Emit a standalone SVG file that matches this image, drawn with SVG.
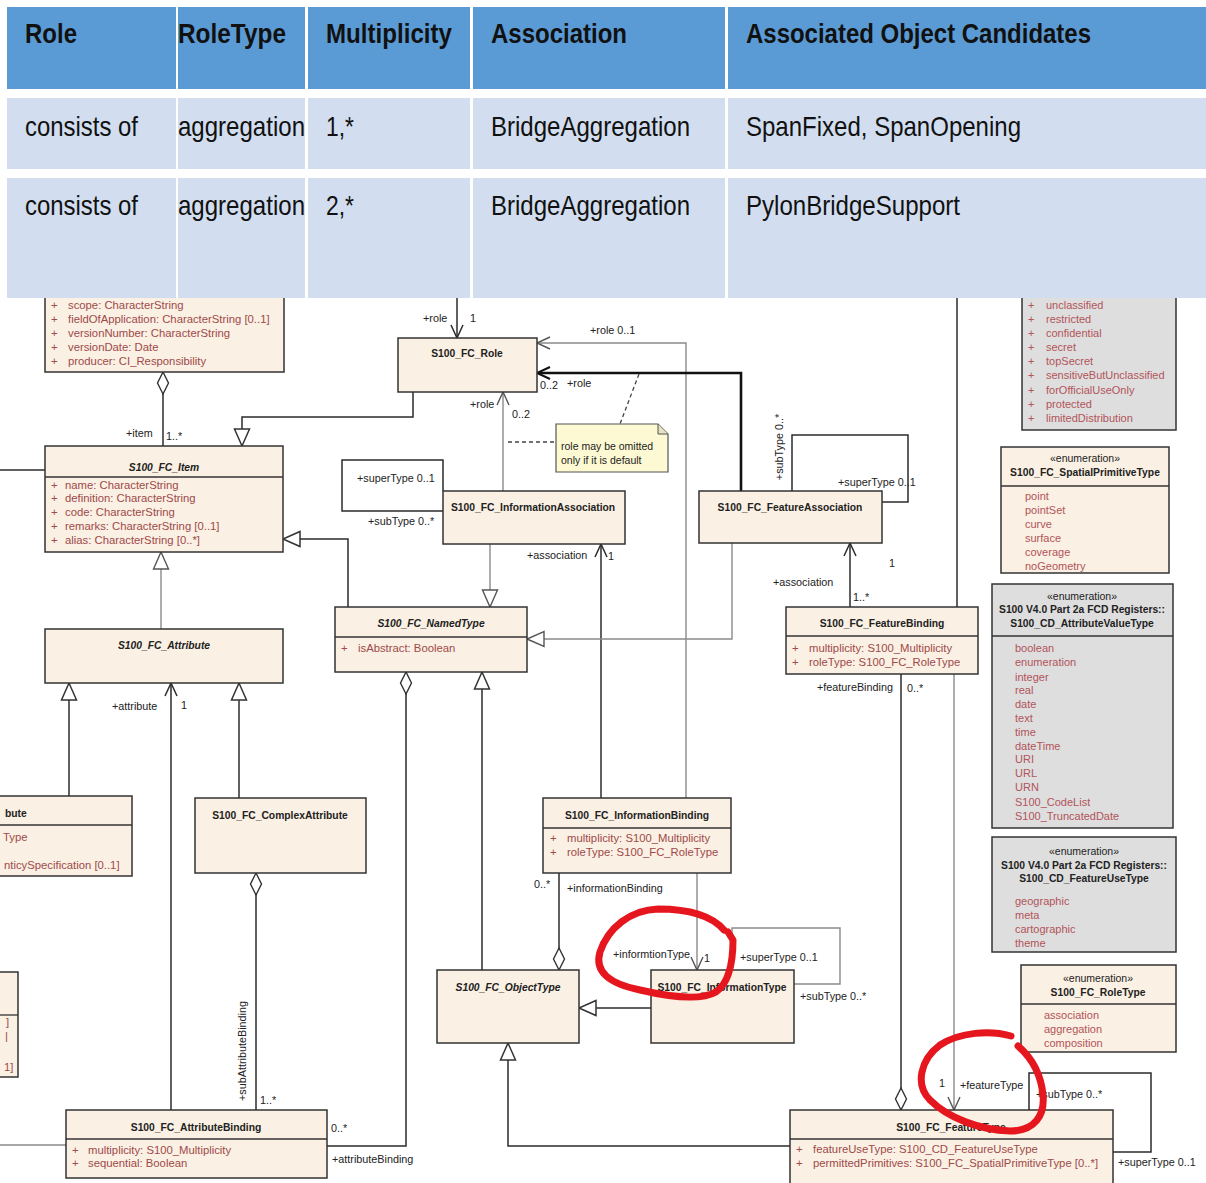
<svg xmlns="http://www.w3.org/2000/svg" width="1206" height="1183" viewBox="0 0 1206 1183">
<style>
.box{fill:#FAF0E3;stroke:#333;stroke-width:1.5}
.gbox{fill:#DEDEDE;stroke:#333;stroke-width:1.5}
.sep{stroke:#333;stroke-width:1.3}
.t{font-family:"Liberation Sans",Arial,sans-serif;font-size:10.3px;font-weight:bold;fill:#222;text-anchor:middle}
.ts{font-family:"Liberation Sans",Arial,sans-serif;font-size:10.3px;font-weight:bold;fill:#222}
.ti{font-family:"Liberation Sans",Arial,sans-serif;font-size:10.3px;font-weight:bold;font-style:italic;fill:#222;text-anchor:middle}
.st{font-family:"Liberation Sans",Arial,sans-serif;font-size:10.5px;fill:#222;text-anchor:middle}
.a{font-family:"Liberation Sans",Arial,sans-serif;font-size:11.3px;fill:#9E4A4A}
.e{font-family:"Liberation Sans",Arial,sans-serif;font-size:11px;fill:#B2545A}
.l{font-family:"Liberation Sans",Arial,sans-serif;font-size:10.8px;fill:#222}
.n{font-family:"Liberation Sans",Arial,sans-serif;font-size:10.5px;fill:#222}
.ln{fill:none;stroke:#2b2b2b;stroke-width:1.5}
.lg{fill:none;stroke:#8a8a8a;stroke-width:1.4}
.th{font-family:"Liberation Sans",Arial,sans-serif;font-size:28px;font-weight:bold;fill:#111}
.td{font-family:"Liberation Sans",Arial,sans-serif;font-size:28px;fill:#111}
.hd{fill:#5B9BD5}
.rw{fill:#D2DEEF}
.red{fill:none;stroke:#E5161D;stroke-width:7;stroke-linecap:round;stroke-linejoin:round}
</style>
<defs>
<marker id="gen" markerUnits="userSpaceOnUse" orient="auto" overflow="visible" markerWidth="1" markerHeight="1"><path d="M0,0 L-17,-7.5 L-17,7.5 Z" fill="#fff" stroke="#333" stroke-width="1.5"/></marker>
<marker id="geng" markerUnits="userSpaceOnUse" orient="auto" overflow="visible" markerWidth="1" markerHeight="1"><path d="M0,0 L-17,-7.5 L-17,7.5 Z" fill="#fff" stroke="#555" stroke-width="1.4"/></marker>
<marker id="arr" markerUnits="userSpaceOnUse" orient="auto" overflow="visible" markerWidth="1" markerHeight="1"><path d="M-13,-6 L0,0 L-13,6" fill="none" stroke="#2b2b2b" stroke-width="1.5"/></marker>
<marker id="arrg" markerUnits="userSpaceOnUse" orient="auto" overflow="visible" markerWidth="1" markerHeight="1"><path d="M-13,-6 L0,0 L-13,6" fill="none" stroke="#555" stroke-width="1.4"/></marker>
<marker id="arrt" markerUnits="userSpaceOnUse" orient="auto" overflow="visible" markerWidth="1" markerHeight="1"><path d="M-13,-6 L0,0 L-13,6" fill="none" stroke="#111" stroke-width="2"/></marker>
<marker id="dia" markerUnits="userSpaceOnUse" orient="auto" overflow="visible" markerWidth="1" markerHeight="1"><path d="M0,0 L11,-5.5 L22,0 L11,5.5 Z" fill="#fff" stroke="#333" stroke-width="1.4"/></marker>
</defs>
<rect width="1206" height="1183" fill="#fff"/>

<!-- connectors -->
<g id="connectors">
<path class="ln" d="M163,372 V446" marker-start="url(#dia)"/>
<path class="ln" d="M413,392 V417 H242 V446" marker-end="url(#gen)"/>
<path class="ln" d="M348,607 V539 H283" marker-end="url(#gen)"/>
<path class="lg" d="M161,629 V552" marker-end="url(#geng)"/>
<path class="ln" d="M457,290 V338" marker-end="url(#arr)"/>
<path class="lg" d="M686,798 V343 H537" marker-end="url(#arrg)"/>
<path fill="none" stroke="#111" stroke-width="2.6" d="M741,491 V373 H537" marker-end="url(#arrt)"/>
<path fill="none" stroke="#444" stroke-width="1.3" stroke-dasharray="4,3" d="M639,374 L620,424 M508,442 H556"/>
<path class="lg" d="M503,491 V392" marker-end="url(#arrg)"/>
<path class="ln" d="M443,491 V460 H342 V511 H443"/>
<path class="lg" d="M490,544 V607" marker-end="url(#geng)"/>
<path class="ln" d="M601,798 V544" marker-end="url(#arr)"/>
<path class="ln" d="M792,491 V435 H908 V502 H882"/>
<path class="ln" d="M850,607 V543" marker-end="url(#arr)"/>
<path class="lg" d="M732,543 V639 H527" marker-end="url(#geng)"/>
<path class="ln" d="M406,672 V1146 H327" marker-start="url(#dia)"/>
<path class="ln" d="M482,970 V672" marker-end="url(#gen)"/>
<path class="ln" d="M69,796 V683" marker-end="url(#gen)"/>
<path class="ln" d="M239,798 V683" marker-end="url(#gen)"/>
<path class="ln" d="M171,1110 V683" marker-end="url(#arr)"/>
<path class="ln" d="M256,873 V1110" marker-start="url(#dia)"/>
<path class="ln" d="M559,970 V873" marker-start="url(#dia)"/>
<path class="lg" d="M697,873 V970" marker-end="url(#arrg)"/>
<path class="lg" d="M732,970 V928 H840 V984 H794"/>
<path class="ln" d="M651,1008 H579" marker-end="url(#gen)"/>
<path class="ln" d="M790,1146 H508 V1043" marker-end="url(#gen)"/>
<path class="ln" d="M901,1110 V674" marker-start="url(#dia)"/>
<path class="lg" d="M954,674 V1110" marker-end="url(#arrg)"/>
<path class="ln" d="M1029,1110 V1073 H1151 V1152 H1113"/>
<path class="ln" d="M957,290 V607"/>
<path class="ln" d="M0,470 H45"/>
<path class="lg" d="M0,1145 H66"/>
</g>

<!-- connector labels -->
<g id="labels">
<text class="l" x="126" y="437">+item</text>
<text class="l" x="166" y="440">1..*</text>
<text class="l" x="423" y="322">+role</text>
<text class="l" x="470" y="322">1</text>
<text class="l" x="590" y="334">+role 0..1</text>
<text class="l" x="540" y="389">0..2</text>
<text class="l" x="567" y="387">+role</text>
<text class="l" x="470" y="408">+role</text>
<text class="l" x="512" y="418">0..2</text>
<text class="l" x="357" y="482">+superType 0..1</text>
<text class="l" x="368" y="525">+subType 0..*</text>
<text class="l" x="527" y="559">+association</text>
<text class="l" x="608" y="560">1</text>
<text class="l" transform="translate(783,447) rotate(-90)" text-anchor="middle">+subType 0..*</text>
<text class="l" x="838" y="486">+superType 0..1</text>
<text class="l" x="773" y="586">+association</text>
<text class="l" x="889" y="567">1</text>
<text class="l" x="853" y="601">1..*</text>
<text class="l" x="112" y="710">+attribute</text>
<text class="l" x="181" y="709">1</text>
<text class="l" transform="translate(246,1051) rotate(-90)" text-anchor="middle">+subAttributeBinding</text>
<text class="l" x="260" y="1104">1..*</text>
<text class="l" x="331" y="1132">0..*</text>
<text class="l" x="332" y="1163">+attributeBinding</text>
<text class="l" x="534" y="888">0..*</text>
<text class="l" x="567" y="892">+informationBinding</text>
<text class="l" x="613" y="958">+informtionType</text>
<text class="l" x="704" y="962">1</text>
<text class="l" x="740" y="961">+superType 0..1</text>
<text class="l" x="800" y="1000">+subType 0..*</text>
<text class="l" x="817" y="691">+featureBinding</text>
<text class="l" x="907" y="692">0..*</text>
<text class="l" x="939" y="1087">1</text>
<text class="l" x="960" y="1089">+featureType</text>
<text class="l" x="1036" y="1098">+subType 0..*</text>
<text class="l" x="1118" y="1166">+superType 0..1</text>
</g>

<!-- nodes -->
<g id="FeatureCatalogue">
<rect class="box" x="45" y="270" width="239" height="102"/>
<text class="a" x="51" y="309">+</text><text class="a" x="68" y="309">scope: CharacterString</text>
<text class="a" x="51" y="323">+</text><text class="a" x="68" y="323">fieldOfApplication: CharacterString [0..1]</text>
<text class="a" x="51" y="337">+</text><text class="a" x="68" y="337">versionNumber: CharacterString</text>
<text class="a" x="51" y="351">+</text><text class="a" x="68" y="351">versionDate: Date</text>
<text class="a" x="51" y="365">+</text><text class="a" x="68" y="365">producer: CI_Responsibility</text>
</g>
<g id="Item">
<rect class="box" x="45" y="446" width="238" height="106"/>
<text class="ti" x="164" y="471">S100_FC_Item</text>
<line class="sep" x1="45" y1="477" x2="283" y2="477"/>
<text class="a" x="51" y="489">+</text><text class="a" x="65" y="489">name: CharacterString</text>
<text class="a" x="51" y="502">+</text><text class="a" x="65" y="502">definition: CharacterString</text>
<text class="a" x="51" y="516">+</text><text class="a" x="65" y="516">code: CharacterString</text>
<text class="a" x="51" y="530">+</text><text class="a" x="65" y="530">remarks: CharacterString [0..1]</text>
<text class="a" x="51" y="544">+</text><text class="a" x="65" y="544">alias: CharacterString [0..*]</text>
</g>
<g id="Role">
<rect class="box" x="398" y="338" width="139" height="54"/>
<text class="t" x="467" y="357">S100_FC_Role</text>
</g>
<g id="Note">
<path d="M556,424 H658 L668,434 V472 H556 Z" fill="#FDFAD3" stroke="#555" stroke-width="1.2"/>
<path d="M658,424 V434 H668" fill="#E6E3C0" stroke="#555" stroke-width="1"/>
<text class="n" x="561" y="450">role may be omitted</text>
<text class="n" x="561" y="464">only if it is default</text>
</g>
<g id="InformationAssociation">
<rect class="box" x="443" y="491" width="182" height="53"/>
<text class="t" x="533" y="511">S100_FC_InformationAssociation</text>
</g>
<g id="FeatureAssociation">
<rect class="box" x="699" y="491" width="183" height="52"/>
<text class="t" x="790" y="511">S100_FC_FeatureAssociation</text>
</g>
<g id="NamedType">
<rect class="box" x="335" y="607" width="192" height="65"/>
<text class="ti" x="431" y="627">S100_FC_NamedType</text>
<line class="sep" x1="335" y1="637" x2="527" y2="637"/>
<text class="a" x="341" y="652">+</text><text class="a" x="358" y="652">isAbstract: Boolean</text>
</g>
<g id="FeatureBinding">
<rect class="box" x="786" y="607" width="192" height="67"/>
<text class="t" x="882" y="627">S100_FC_FeatureBinding</text>
<line class="sep" x1="786" y1="636" x2="978" y2="636"/>
<text class="a" x="792" y="652">+</text><text class="a" x="809" y="652">multiplicity: S100_Multiplicity</text>
<text class="a" x="792" y="666">+</text><text class="a" x="809" y="666">roleType: S100_FC_RoleType</text>
</g>
<g id="Attribute">
<rect class="box" x="45" y="629" width="238" height="54"/>
<text class="ti" x="164" y="649">S100_FC_Attribute</text>
</g>
<g id="SimpleAttribute">
<rect class="box" x="-5" y="796" width="137" height="80"/>
<text class="ts" x="5" y="817">bute</text>
<line class="sep" x1="0" y1="825" x2="132" y2="825"/>
<text class="a" x="3" y="841">Type</text>
<text class="a" x="4" y="869">nticySpecification [0..1]</text>
</g>
<g id="CutLeftClass">
<rect class="box" x="-5" y="972" width="23" height="105"/>
<line class="sep" x1="0" y1="1015" x2="18" y2="1015"/>
<text class="a" x="6" y="1026">]</text>
<text class="a" x="5" y="1040">|</text>
<text class="a" x="4" y="1071">1]</text>
</g>
<g id="ComplexAttribute">
<rect class="box" x="195" y="798" width="171" height="75"/>
<text class="t" x="280" y="819">S100_FC_ComplexAttribute</text>
</g>
<g id="AttributeBinding">
<rect class="box" x="66" y="1110" width="261" height="68"/>
<text class="t" x="196" y="1131">S100_FC_AttributeBinding</text>
<line class="sep" x1="66" y1="1139" x2="327" y2="1139"/>
<text class="a" x="72" y="1154">+</text><text class="a" x="88" y="1154">multiplicity: S100_Multiplicity</text>
<text class="a" x="72" y="1167">+</text><text class="a" x="88" y="1167">sequential: Boolean</text>
</g>
<g id="InformationBinding">
<rect class="box" x="543" y="798" width="188" height="75"/>
<text class="t" x="637" y="819">S100_FC_InformationBinding</text>
<line class="sep" x1="543" y1="828" x2="731" y2="828"/>
<text class="a" x="550" y="842">+</text><text class="a" x="567" y="842">multiplicity: S100_Multiplicity</text>
<text class="a" x="550" y="856">+</text><text class="a" x="567" y="856">roleType: S100_FC_RoleType</text>
</g>
<g id="ObjectType">
<rect class="box" x="437" y="970" width="142" height="73"/>
<text class="ti" x="508" y="991">S100_FC_ObjectType</text>
</g>
<g id="InformationType">
<rect class="box" x="651" y="970" width="143" height="73"/>
<text class="t" x="722" y="991">S100_FC_InformationType</text>
</g>
<g id="FeatureType">
<rect class="box" x="790" y="1110" width="323" height="80"/>
<text class="t" x="951" y="1131">S100_FC_FeatureType</text>
<line class="sep" x1="790" y1="1139" x2="1113" y2="1139"/>
<text class="a" x="796" y="1153">+</text><text class="a" x="813" y="1153">featureUseType: S100_CD_FeatureUseType</text>
<text class="a" x="796" y="1167">+</text><text class="a" x="813" y="1167">permittedPrimitives: S100_FC_SpatialPrimitiveType [0..*]</text>
</g>
<g id="ClassificationEnum">
<rect class="gbox" x="1022" y="270" width="154" height="160"/>
<text class="e" x="1028" y="309">+</text><text class="e" x="1046" y="309">unclassified</text>
<text class="e" x="1028" y="323">+</text><text class="e" x="1046" y="323">restricted</text>
<text class="e" x="1028" y="337">+</text><text class="e" x="1046" y="337">confidential</text>
<text class="e" x="1028" y="351">+</text><text class="e" x="1046" y="351">secret</text>
<text class="e" x="1028" y="365">+</text><text class="e" x="1046" y="365">topSecret</text>
<text class="e" x="1028" y="379">+</text><text class="e" x="1046" y="379">sensitiveButUnclassified</text>
<text class="e" x="1028" y="394">+</text><text class="e" x="1046" y="394">forOfficialUseOnly</text>
<text class="e" x="1028" y="408">+</text><text class="e" x="1046" y="408">protected</text>
<text class="e" x="1028" y="422">+</text><text class="e" x="1046" y="422">limitedDistribution</text>
</g>
<g id="SpatialPrimitiveType">
<rect class="box" x="1001" y="447" width="168" height="126"/>
<text class="st" x="1085" y="462">«enumeration»</text>
<text class="t" x="1085" y="476">S100_FC_SpatialPrimitiveType</text>
<line class="sep" x1="1001" y1="486" x2="1169" y2="486"/>
<text class="e" x="1025" y="500">point</text>
<text class="e" x="1025" y="514">pointSet</text>
<text class="e" x="1025" y="528">curve</text>
<text class="e" x="1025" y="542">surface</text>
<text class="e" x="1025" y="556">coverage</text>
<text class="e" x="1025" y="570">noGeometry</text>
</g>
<g id="AttributeValueType">
<rect class="gbox" x="992" y="584" width="181" height="244"/>
<text class="st" x="1082" y="600">«enumeration»</text>
<text class="t" x="1082" y="613">S100 V4.0 Part 2a FCD Registers::</text>
<text class="t" x="1082" y="627">S100_CD_AttributeValueType</text>
<line class="sep" x1="992" y1="636" x2="1173" y2="636"/>
<text class="e" x="1015" y="652">boolean</text>
<text class="e" x="1015" y="666">enumeration</text>
<text class="e" x="1015" y="681">integer</text>
<text class="e" x="1015" y="694">real</text>
<text class="e" x="1015" y="708">date</text>
<text class="e" x="1015" y="722">text</text>
<text class="e" x="1015" y="736">time</text>
<text class="e" x="1015" y="750">dateTime</text>
<text class="e" x="1015" y="763">URI</text>
<text class="e" x="1015" y="777">URL</text>
<text class="e" x="1015" y="791">URN</text>
<text class="e" x="1015" y="806">S100_CodeList</text>
<text class="e" x="1015" y="820">S100_TruncatedDate</text>
</g>
<g id="FeatureUseType">
<rect class="gbox" x="992" y="837" width="184" height="115"/>
<text class="st" x="1084" y="855">«enumeration»</text>
<text class="t" x="1084" y="869">S100 V4.0 Part 2a FCD Registers::</text>
<text class="t" x="1084" y="882">S100_CD_FeatureUseType</text>
<text class="e" x="1015" y="905">geographic</text>
<text class="e" x="1015" y="919">meta</text>
<text class="e" x="1015" y="933">cartographic</text>
<text class="e" x="1015" y="947">theme</text>
</g>
<g id="RoleTypeEnum">
<rect class="box" x="1021" y="965" width="155" height="87"/>
<text class="st" x="1098" y="982">«enumeration»</text>
<text class="t" x="1098" y="996">S100_FC_RoleType</text>
<line class="sep" x1="1021" y1="1004" x2="1176" y2="1004"/>
<text class="e" x="1044" y="1019">association</text>
<text class="e" x="1044" y="1033">aggregation</text>
<text class="e" x="1044" y="1047">composition</text>
</g>

<!-- red hand-drawn marks -->
<g id="redMarks">
<path class="red" d="M724,930 C712,916 688,909 658,909 C630,910 608,928 600,952 C594,972 610,984 640,990 C670,997 700,1001 716,992 C730,982 733,958 733,940 L728,932"/>
<path class="red" d="M1011,1036 C990,1030 960,1032 940,1045 C920,1060 915,1085 930,1100 C948,1118 980,1130 1010,1131 C1035,1131 1045,1115 1043,1095 C1041,1075 1032,1058 1018,1046"/>
</g>

<!-- table -->
<g id="table">
<rect x="0" y="0" width="1206" height="298" fill="#fff"/>
<rect class="hd" x="7" y="7" width="169" height="82"/>
<rect class="hd" x="178" y="7" width="127" height="82"/>
<rect class="hd" x="308" y="7" width="162" height="82"/>
<rect class="hd" x="473" y="7" width="252" height="82"/>
<rect class="hd" x="728" y="7" width="478" height="82"/>
<rect class="rw" x="7" y="98" width="169" height="71"/>
<rect class="rw" x="178" y="98" width="127" height="71"/>
<rect class="rw" x="308" y="98" width="162" height="71"/>
<rect class="rw" x="473" y="98" width="252" height="71"/>
<rect class="rw" x="728" y="98" width="478" height="71"/>
<rect class="rw" x="7" y="178" width="169" height="120"/>
<rect class="rw" x="178" y="178" width="127" height="120"/>
<rect class="rw" x="308" y="178" width="162" height="120"/>
<rect class="rw" x="473" y="178" width="252" height="120"/>
<rect class="rw" x="728" y="178" width="478" height="120"/>
<text class="th" x="25" y="43" textLength="52" lengthAdjust="spacingAndGlyphs">Role</text>
<text class="th" x="178" y="43" textLength="108" lengthAdjust="spacingAndGlyphs">RoleType</text>
<text class="th" x="326" y="43" textLength="126" lengthAdjust="spacingAndGlyphs">Multiplicity</text>
<text class="th" x="491" y="43" textLength="136" lengthAdjust="spacingAndGlyphs">Association</text>
<text class="th" x="746" y="43" textLength="345" lengthAdjust="spacingAndGlyphs">Associated Object Candidates</text>
<text class="td" x="25" y="136" textLength="113" lengthAdjust="spacingAndGlyphs">consists of</text>
<text class="td" x="178" y="136" textLength="127" lengthAdjust="spacingAndGlyphs">aggregation</text>
<text class="td" x="326" y="136" textLength="28" lengthAdjust="spacingAndGlyphs">1,*</text>
<text class="td" x="491" y="136" textLength="199" lengthAdjust="spacingAndGlyphs">BridgeAggregation</text>
<text class="td" x="746" y="136" textLength="275" lengthAdjust="spacingAndGlyphs">SpanFixed, SpanOpening</text>
<text class="td" x="25" y="215" textLength="113" lengthAdjust="spacingAndGlyphs">consists of</text>
<text class="td" x="178" y="215" textLength="127" lengthAdjust="spacingAndGlyphs">aggregation</text>
<text class="td" x="326" y="215" textLength="28" lengthAdjust="spacingAndGlyphs">2,*</text>
<text class="td" x="491" y="215" textLength="199" lengthAdjust="spacingAndGlyphs">BridgeAggregation</text>
<text class="td" x="746" y="215" textLength="214" lengthAdjust="spacingAndGlyphs">PylonBridgeSupport</text>
</g>
</svg>
